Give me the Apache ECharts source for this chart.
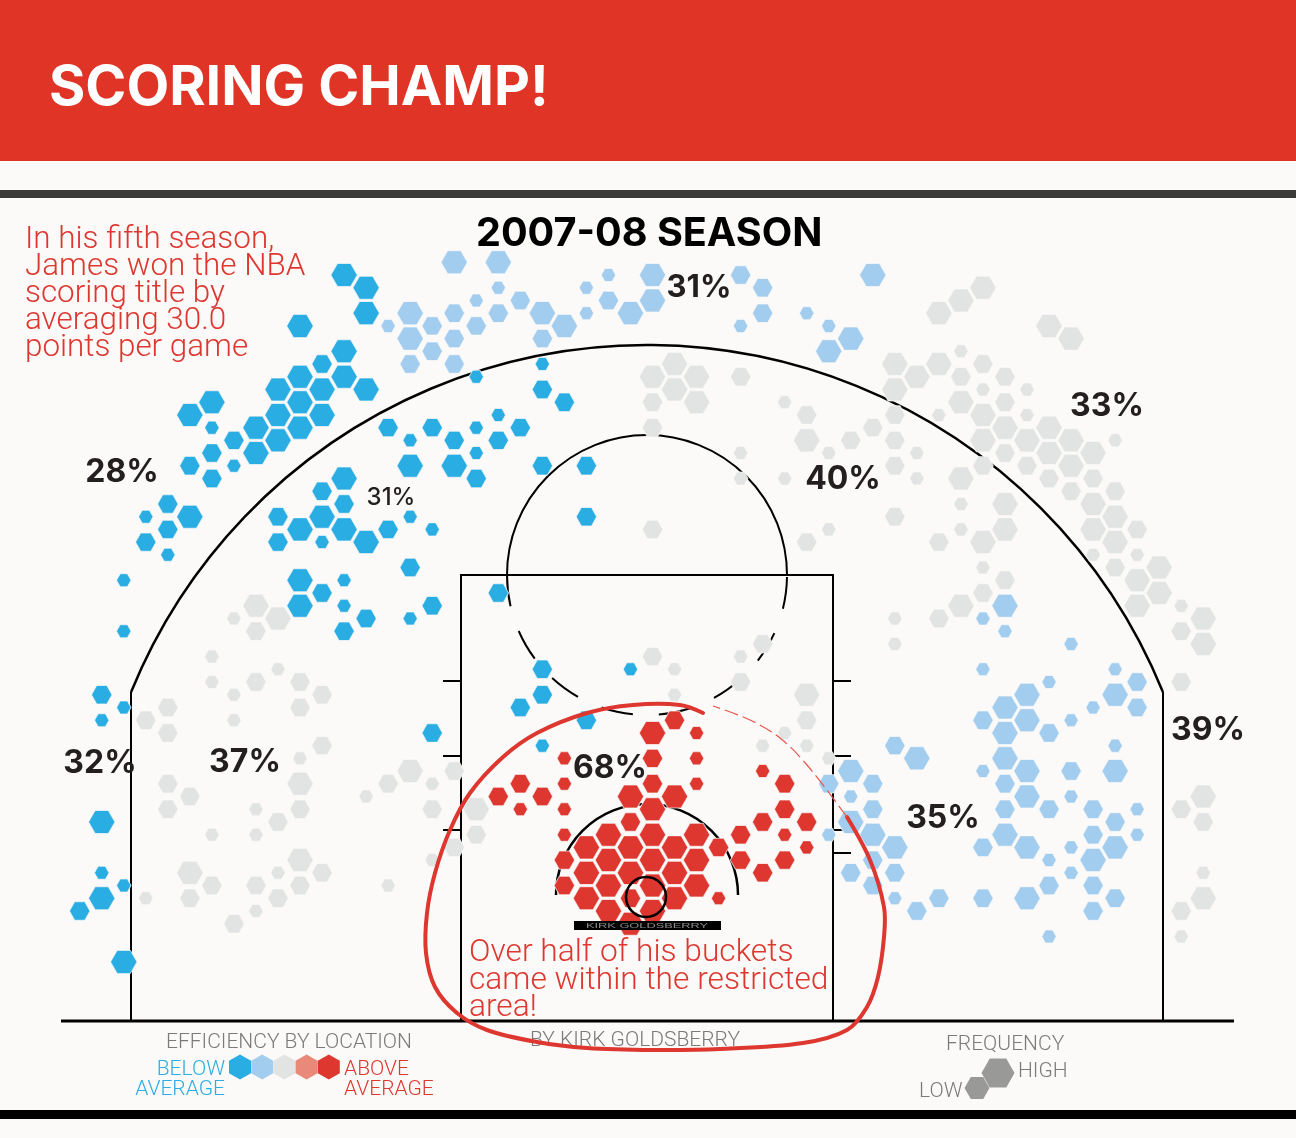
<!DOCTYPE html>
<html><head><meta charset="utf-8">
<style>html,body{margin:0;padding:0;background:#FBFAF8}#c{width:1296px;height:1138px}</style>
<script src="https://cdn.jsdelivr.net/npm/echarts@6/dist/echarts.min.js"></script>
</head><body><div id="c"></div>
<script>
// Every hex: [court column, court row, frequency class 1 low .. 3 high]
const belowAverage = [[-14,0,3],[-13,1,3],[-13,3,3],[-16,4,3],[-14,6,3],[-15,7,2],[-13,9,3],[-14,8,3],[-16,8,3],[-17,9,3],[-15,9,3],[-16,10,3],[-17,11,3],[-15,11,3],[-16,12,3],[-18,12,3],[-17,13,3],[-18,14,3],[-19,13,2],[-20,10,3],[-21,11,3],[-20,12,1],[-20,14,2],[-21,15,2],[-20,16,2],[-19,15,1],[-22,18,2],[-21,19,3],[-23,19,1],[-22,20,2],[-23,21,2],[-22,22,1],[-14,16,3],[-15,17,2],[-14,18,2],[-15,19,3],[-14,20,3],[-13,21,3],[-12,20,2],[-11,19,1],[-10,20,1],[-17,19,2],[-16,20,3],[-17,21,2],[-15,21,1],[-11,23,2],[-12,12,2],[-11,13,1],[-10,12,2],[-9,13,2],[-11,15,3],[-9,15,3],[-5,7,1],[-8,8,1],[-5,9,2],[-4,10,2],[-7,11,1],[-8,12,1],[-6,12,2],[-7,13,2],[-8,14,1],[-8,16,2],[-5,15,2],[-3,15,2],[-3,19,2],[-24,24,1],[-24,28,1],[-25,33,2],[-24,34,1],[-25,35,1],[-25,43,3],[-25,47,1],[-24,48,1],[-25,49,3],[-26,50,2],[-24,54,3],[-16,24,3],[-15,25,2],[-16,26,3],[-14,24,1],[-14,26,1],[-13,27,2],[-14,28,2],[-11,27,1],[-10,26,2],[-10,36,2],[-5,31,2],[-1,31,1],[-5,33,2],[-6,34,2],[-3,35,2],[-5,37,1],[-7,25,2]];
const slightlyBelow = [[-11,3,3],[-12,4,1],[-10,4,2],[-11,5,3],[-10,6,2],[-11,7,2],[-9,3,2],[-9,5,2],[-9,7,2],[-9,-1,3],[-7,-1,3],[-7,1,1],[-8,2,1],[-6,2,2],[-7,3,2],[-5,3,3],[-4,4,3],[-8,4,2],[-5,5,2],[-3,1,1],[-2,0,1],[-3,3,1],[-2,2,2],[-1,3,3],[0,0,3],[0,2,3],[4,0,2],[5,1,2],[5,3,2],[4,4,1],[7,3,1],[8,4,1],[9,5,3],[8,6,3],[10,0,3],[16,26,3],[15,27,1],[16,28,1],[19,29,1],[15,31,1],[21,31,1],[22,32,2],[18,32,1],[17,33,3],[21,33,3],[16,34,3],[20,34,1],[22,34,2],[15,35,2],[17,35,3],[19,35,1],[16,36,3],[18,36,2],[11,37,2],[21,37,1],[16,38,3],[12,38,3],[15,39,1],[17,39,3],[19,39,2],[21,39,3],[10,40,2],[16,40,2],[17,41,3],[19,41,1],[10,42,2],[16,42,2],[18,42,2],[20,42,2],[22,42,1],[21,43,2],[10,44,3],[16,44,3],[20,44,2],[22,44,1],[11,45,3],[15,45,2],[17,45,3],[19,45,1],[21,45,3],[10,46,2],[18,46,1],[20,46,3],[11,47,2],[19,47,1],[10,48,2],[18,48,2],[20,48,2],[11,49,1],[13,49,2],[15,49,2],[17,49,3],[21,49,2],[12,50,2],[20,50,2],[18,52,1],[8,40,2],[9,41,1],[9,39,3],[9,43,3],[8,44,1],[9,47,2]];
const averageZone = [[1,7,3],[0,8,3],[2,8,3],[4,8,2],[1,9,3],[0,10,2],[2,10,3],[0,12,2],[4,14,1],[4,16,1],[0,20,2],[6,10,1],[7,11,2],[7,13,3],[8,14,1],[6,16,1],[9,13,2],[10,12,2],[8,20,1],[7,21,2],[15,1,3],[14,2,3],[13,3,3],[18,4,3],[19,5,3],[14,6,1],[11,7,3],[13,7,3],[15,7,2],[12,8,3],[14,8,2],[16,8,2],[11,9,3],[15,9,1],[17,9,1],[14,10,3],[16,10,2],[11,11,2],[13,11,1],[15,11,3],[17,11,1],[16,12,3],[18,12,3],[11,13,2],[15,13,3],[17,13,3],[19,13,3],[21,13,1],[12,14,1],[16,14,2],[18,14,3],[20,14,3],[11,15,2],[15,15,2],[17,15,2],[19,15,3],[12,16,1],[14,16,3],[18,16,2],[20,16,2],[19,17,2],[21,17,2],[14,18,1],[16,18,3],[20,18,3],[21,19,3],[11,19,2],[14,20,1],[16,20,3],[20,20,3],[22,20,2],[13,21,2],[15,21,3],[21,21,3],[20,22,1],[22,22,1],[15,23,1],[21,23,2],[23,23,3],[22,24,3],[16,24,2],[15,25,2],[23,25,3],[14,26,3],[22,26,3],[24,26,1],[25,27,3],[13,27,2],[11,27,1],[24,28,2],[25,29,3],[11,29,1],[24,32,2],[25,41,3],[24,42,2],[25,43,2],[25,47,1],[25,49,3],[24,50,2],[24,52,1],[0,30,2],[1,31,1],[4,30,1],[5,29,2],[4,32,2],[1,33,1],[7,33,3],[7,35,2],[6,36,1],[5,37,1],[7,37,1],[8,38,1],[-9,39,2],[-10,40,1],[-8,42,3],[-10,42,2],[-8,44,2],[-9,45,2],[-10,46,1],[-18,26,3],[-17,27,3],[-19,27,1],[-18,28,2],[-20,30,1],[-20,32,1],[-18,32,2],[-17,31,1],[-16,32,2],[-15,33,2],[-19,33,1],[-16,34,2],[-19,35,1],[-22,34,2],[-23,35,2],[-22,36,2],[-15,37,2],[-16,38,1],[-16,40,3],[-22,40,2],[-21,41,2],[-22,42,2],[-18,42,1],[-16,42,2],[-17,43,2],[-20,44,1],[-18,44,1],[-16,46,3],[-21,47,3],[-15,47,2],[-17,47,1],[-20,48,2],[-18,48,2],[-16,48,2],[-23,49,1],[-21,49,2],[-17,49,2],[-18,50,1],[-19,51,2],[-11,39,3],[-12,40,2],[-13,41,1],[-12,48,1]];
const aboveAverage = [[1,35,2],[0,36,3],[2,36,1],[0,38,2],[2,38,1],[-4,38,1],[0,40,2],[2,40,1],[-4,40,1],[-6,40,2],[-7,41,2],[-5,41,2],[-6,42,1],[-4,42,1],[-1,41,3],[1,41,3],[0,42,3],[-1,43,2],[-4,44,1],[-2,44,3],[0,44,3],[2,44,3],[-3,45,3],[-1,45,3],[1,45,3],[3,45,2],[-4,46,2],[-2,46,3],[0,46,3],[2,46,3],[-3,47,3],[-1,47,3],[1,47,3],[-4,48,2],[-2,48,3],[0,48,3],[2,48,3],[-3,49,3],[-1,49,2],[1,49,3],[3,49,1],[-2,50,3],[0,50,3],[-1,51,3],[4,44,2],[4,46,2],[5,43,2],[5,47,2],[5,39,1],[6,40,2],[6,42,2],[6,44,1],[6,46,2],[7,43,2],[7,45,1]];

const zoneLabels = ['28%','31%','31%','33%','40%','32%','37%','68%','35%','39%'];
const introLines = ['In his fifth season,','James won the NBA','scoring title by','averaging 30.0','points per game'];
const noteLines = ['Over half of his buckets','came within the restricted','area!'];

// ---- layout ----
const C = {blue:'#2AADE3', lightBlue:'#A2CDEE', grey:'#E2E4E3', lightRed:'#E9897A', red:'#DD3730', ink:'#231F20', muted:'#7A7A78'};
const COL_STEP = 22.03, ROW_STEP = 12.72, COL0_PX = 652.5, ROW0_PX = 275;
const HEX_SIZE = {1:[14.6,13], 2:[20.6,18.4], 3:[26.6,23]};
const HEX_PATH = 'path://M-2,0 L-1,-1.732 L1,-1.732 L2,0 L1,1.732 L-1,1.732 Z';
const FONT = 'Roboto, sans-serif';
const WIDE = 'Inter, sans-serif';
const labelPos = [[122,472,32,700],[391,498,24,500],[699,288,31,700],[1107,406,32,700],[843,479,32,700],[100,763,32,700],[245,762,32,700],[610,768,32,700],[943,818,32,700],[1208,730,32,700]];

function hexSeries(name, data, color){
  return {type:'scatter', name, data, symbol:HEX_PATH, symbolSize:d=>HEX_SIZE[d[2]], clip:false, silent:true,
    itemStyle:{color, opacity:1, borderColor:'rgba(251,250,248,0.7)', borderWidth:1}};
}
const G = [];
const line = (x1,y1,x2,y2,lw,z)=>G.push({type:'line',z:z||1,silent:true,shape:{x1,y1,x2,y2},style:{stroke:'#000',lineWidth:lw||2}});
const txt = (text,x,y,font,fill,align,z,extra)=>G.push(Object.assign({type:'text',z:z||20,silent:true,x,y,style:{text,font,fill,textAlign:align||'left',textVerticalAlign:'middle'}},extra||{}));
const rect = (x,y,width,height,fill,z)=>G.push({type:'rect',z:z||0,silent:true,shape:{x,y,width,height},style:{fill}});
function hexPts(cx,cy,w,h,pointy){
  if(pointy) return [[cx,cy-h/2],[cx+w/2,cy-h/4],[cx+w/2,cy+h/4],[cx,cy+h/2],[cx-w/2,cy+h/4],[cx-w/2,cy-h/4]];
  return [[cx-w/2,cy],[cx-w/4,cy-h/2],[cx+w/4,cy-h/2],[cx+w/2,cy],[cx+w/4,cy+h/2],[cx-w/4,cy+h/2]];
}
const poly = (pts,fill)=>G.push({type:'polygon',z:5,silent:true,shape:{points:pts},style:{fill}});

// bands
rect(0,0,1296,161,'#E03526');
rect(0,190,1296,8,'#3A3A38');
rect(0,1110,1296,9,'#000');

// court
line(61,1021,1234,1021,3);
line(131,692,131,1021); line(1163,692,1163,1021);
const a3 = Math.atan2(210,516);
G.push({type:'arc',z:1,silent:true,shape:{cx:647,cy:902,r:557,startAngle:Math.PI+a3,endAngle:2*Math.PI-a3,clockwise:true},style:{stroke:'#000',lineWidth:2.5,fill:null}});
G.push({type:'rect',z:1,silent:true,shape:{x:461,y:575,width:372,height:446},style:{stroke:'#000',lineWidth:2,fill:null}});
[681,756,830].forEach(y=>{line(443,y,461,y);line(833,y,851,y);});
line(453,853,461,853); line(833,853,851,853);
G.push({type:'arc',z:1,silent:true,shape:{cx:647,cy:575,r:140,startAngle:Math.PI,endAngle:2*Math.PI,clockwise:true},style:{stroke:'#000',lineWidth:2,fill:null}});
G.push({type:'arc',z:1,silent:true,shape:{cx:647,cy:575,r:140,startAngle:0,endAngle:Math.PI,clockwise:true},style:{stroke:'#000',lineWidth:2,fill:null,lineDash:[32,26],lineDashOffset:-2}});
G.push({type:'arc',z:1,silent:true,shape:{cx:647,cy:895,r:91,startAngle:Math.PI,endAngle:2*Math.PI,clockwise:true},style:{stroke:'#000',lineWidth:2.5,fill:null}});
G.push({type:'circle',z:8,silent:true,shape:{cx:646,cy:897,r:20},style:{stroke:'#000',lineWidth:2.5,fill:null}});

// credit bar on court
rect(574,921,147,9,'#000',9);
txt('KIRK GOLDSBERRY',647,926,'500 8px "Liberation Sans", sans-serif','#8C8C8C','center',10,{scaleX:1.6});

// text
zoneLabels.forEach((t,i)=>{const p=labelPos[i];txt(t,p[0],p[1],p[3]+' '+p[2]+'px '+WIDE,C.ink,'center',20);});
introLines.forEach((t,i)=>txt(t,25,240+27*i,'300 31.4px '+FONT,C.red,'left',20));
noteLines.forEach((t,i)=>txt(t,469,953.5+27.5*i,'300 31.7px '+FONT,C.red,'left',20));

// legends
const L = '300 21px '+FONT;
txt('EFFICIENCY BY LOCATION',166,1043,L,C.muted,'left',20);
txt('BELOW',225,1070,L,C.blue,'right',20);
txt('AVERAGE',225,1090,L,C.blue,'right',20);
txt('ABOVE',344,1070,L,C.red,'left',20);
txt('AVERAGE',344,1090,L,C.red,'left',20);
[C.blue,C.lightBlue,C.grey,C.lightRed,C.red].forEach((col,i)=>poly(hexPts(240+22.2*i,1067,22,25,true),col));
txt('FREQUENCY',946,1045,L,C.muted,'left',20);
txt('HIGH',1018,1072,L,C.muted,'left',20);
txt('LOW',919,1092,L,C.muted,'left',20);
poly(hexPts(998,1073,33,29,false),'#999997');
poly(hexPts(977,1088,25,22,false),'#999997');
txt('BY KIRK GOLDSBERRY',530,1041,L,C.muted,'left',20);

// hand drawn ring
G.push({type:'polyline',z:30,silent:true,shape:{smooth:0.35,points:[[703,713],[680,705],[633,705],[587,713],[537,733],[503,757],[470,793],[450,830],[435,873],[427,913],[426,953],[435,987],[457,1013],[487,1030],[537,1042],[587,1048],[653,1050],[720,1049],[803,1043],[847,1030],[867,1007],[878,977],[884,937],[884,907],[870,860],[847,817]]},style:{stroke:C.red,lineWidth:4,fill:null,lineCap:'round',lineJoin:'round'}});
G.push({type:'polyline',z:30,silent:true,shape:{smooth:0.35,points:[[847,817],[807,765],[780,738],[750,720],[713,706]]},style:{stroke:'#E5574C',lineWidth:1.2,fill:null,lineDash:[14,5]}});

const chart = echarts.init(document.getElementById('c'), null, {renderer:'canvas'});
chart.setOption({
  animation:false,
  backgroundColor:'#FBFAF8',
  title:[
    {text:'SCORING CHAMP!',left:44,top:49,z:6,textStyle:{fontFamily:'Inter',fontWeight:700,fontSize:55.5,color:'#FFFFFF',lineHeight:68}},
    {text:'2007-08 SEASON',left:471,top:205,z:6,textStyle:{fontFamily:'Inter',fontWeight:700,fontSize:39.6,color:'#000000',lineHeight:48}}
  ],
  grid:{left:0,right:0,top:0,bottom:0},
  xAxis:{type:'value',show:false,min:-COL0_PX/COL_STEP,max:(1296-COL0_PX)/COL_STEP},
  yAxis:{type:'value',show:false,inverse:true,min:-ROW0_PX/ROW_STEP,max:(1138-ROW0_PX)/ROW_STEP},
  series:[
    hexSeries('Below average',belowAverage,C.blue),
    hexSeries('Slightly below average',slightlyBelow,C.lightBlue),
    hexSeries('Average',averageZone,C.grey),
    hexSeries('Above average',aboveAverage,C.red)
  ],
  graphic:{elements:G}
});
</script></body></html>
